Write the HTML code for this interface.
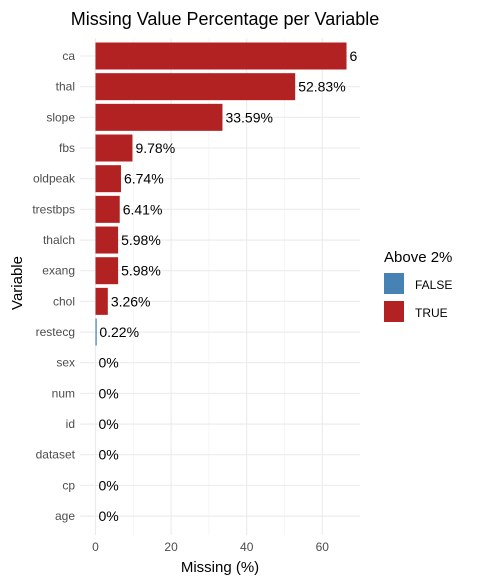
<!DOCTYPE html>
<html><head><meta charset="utf-8"><style>
body{margin:0;background:#fff;font-family:"Liberation Sans",Arial,sans-serif}
svg text{font-family:"Liberation Sans",Arial,sans-serif}
</style></head><body>
<svg id="chart" width="477" height="583" viewBox="0 0 477 583" xmlns="http://www.w3.org/2000/svg">
<defs><clipPath id="panelClip"><rect x="80" y="38" width="277" height="498"/></clipPath></defs>
<text x="225" y="25" font-size="18" text-anchor="middle" fill="#000">Missing Value Percentage per Variable</text>
<g id="grid"></g>
<g id="bars" clip-path="url(#panelClip)"></g>
<g id="ylabels"></g>
<g id="xticks"></g>
<text x="220" y="572" font-size="15" text-anchor="middle" fill="#000">Missing (%)</text>
<text transform="translate(22,283) rotate(-90)" font-size="15" text-anchor="middle" fill="#000">Variable</text>
<g>
<text x="384" y="262" font-size="15" fill="#000">Above 2%</text>
<rect x="384" y="273" width="20" height="21" fill="#4682b4"/>
<text x="415" y="289" font-size="12" fill="#000">FALSE</text>
<rect x="384" y="301" width="20" height="21" fill="#b22222"/>
<text x="415" y="317" font-size="12" fill="#000">TRUE</text>
</g>
</svg>
<script>
const categories=["ca","thal","slope","fbs","oldpeak","trestbps","thalch","exang","chol","restecg","sex","num","id","dataset","cp","age"];
const values=[66.41,52.83,33.59,9.78,6.74,6.41,5.98,5.98,3.26,0.22,0,0,0,0,0,0];
const labels=["66.41%","52.83%","33.59%","9.78%","6.74%","6.41%","5.98%","5.98%","3.26%","0.22%","0%","0%","0%","0%","0%","0%"];
const xTicks=[0,20,40,60];
const xMinor=[10,30,50];
const NS="http://www.w3.org/2000/svg";
const x=v=>95.5+v*3.78;
const y=i=>56+i*30.67;
function mk(tag,attrs,parent,txt){const e=document.createElementNS(NS,tag);for(const k in attrs)e.setAttribute(k,attrs[k]);if(txt!==undefined)e.textContent=txt;parent.appendChild(e);return e;}
const grid=document.getElementById('grid'),bars=document.getElementById('bars'),yl=document.getElementById('ylabels'),xt=document.getElementById('xticks');
xMinor.forEach(v=>{const l=mk('line',{x1:x(v),x2:x(v),y1:38,y2:535,stroke:'#f0f0f0','stroke-width':0.6},grid);});
xTicks.forEach(v=>{const l=mk('line',{x1:x(v),x2:x(v),y1:38,y2:535,stroke:'#ebebeb','stroke-width':1.1},grid);
const t=mk('text',{x:x(v),y:551,'font-size':12,'text-anchor':'middle',fill:'#4d4d4d'},xt,String(v));});
categories.forEach((c,i)=>{const l=mk('line',{x1:80,x2:360,y1:y(i),y2:y(i),stroke:'#ebebeb','stroke-width':1.1},grid);
const t=mk('text',{x:75,y:y(i)+4,'font-size':12,'text-anchor':'end',fill:'#4d4d4d'},yl,c);
const v=values[i];
if(v>0){const r=mk('rect',{x:x(0),y:y(i)-13.5,width:Math.max(x(v)-x(0),1.2),height:27,fill:v>2?'#b22222':'#4682b4'},bars);}
const lt=mk('text',{x:x(v)+3,y:y(i)+5,'font-size':14,fill:'#000'},bars,labels[i]);});
</script>
</body></html>
